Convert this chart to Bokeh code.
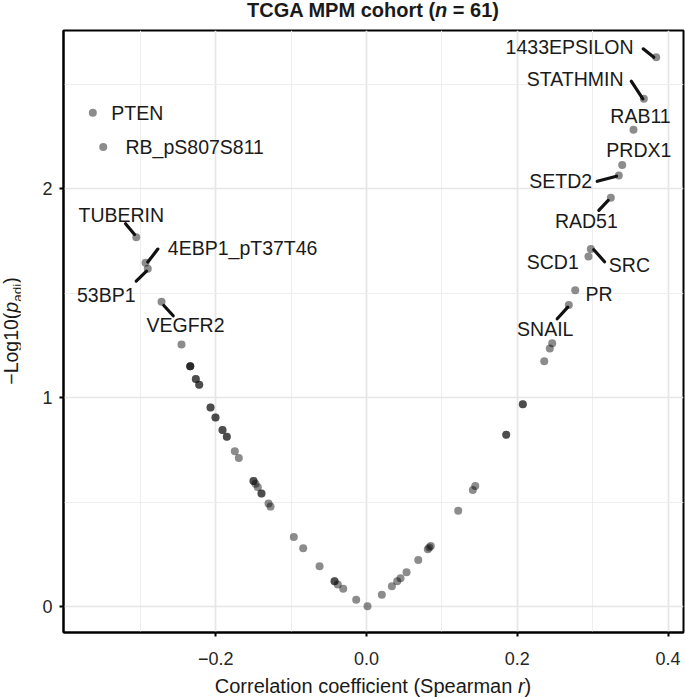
from bokeh.plotting import figure
from bokeh.models import ColumnDataSource, FixedTicker, Div
from bokeh.layouts import column, row
from bokeh.core.properties import value
from bokeh.embed import file_html
from bokeh.resources import INLINE

# ---------------- data ----------------
# unlabeled proteins (duplicates = overlapping proteins)
other_r = [-0.2454, -0.2338, -0.2338, -0.2338, -0.2264, -0.2264, -0.2219, -0.2219,
           -0.2069, -0.2069, -0.2003, -0.2003, -0.1910, -0.1910, -0.1853, -0.1853,
           -0.1747, -0.1694, -0.1499, -0.1499, -0.1472, -0.1442, -0.1393, -0.1393,
           -0.1300, -0.1273, -0.0964, -0.0840, -0.0623, -0.0424, -0.0424, -0.0381,
           -0.0309, -0.0137, 0.0013,
           0.0203, 0.0336, 0.0407, 0.0451, 0.0531, 0.0686, 0.0813, 0.0832, 0.0853,
           0.1216, 0.1410, 0.1442, 0.1853, 0.1853, 0.2073, 0.2073, 0.2357, 0.2431, 0.2463]
other_y = [1.254, 1.150, 1.150, 1.150, 1.089, 1.089, 1.061, 1.061,
           0.952, 0.952, 0.904, 0.904, 0.844, 0.844, 0.812, 0.812,
           0.743, 0.711, 0.600, 0.600, 0.587, 0.571, 0.541, 0.541,
           0.493, 0.478, 0.332, 0.279, 0.193, 0.121, 0.121, 0.105,
           0.085, 0.032, 0.001,
           0.056, 0.097, 0.121, 0.135, 0.164, 0.223, 0.274, 0.282, 0.290,
           0.458, 0.558, 0.576, 0.822, 0.822, 0.968, 0.968, 1.174, 1.234, 1.260]

lab_names = ["1433EPSILON", "STATHMIN", "RAB11", "PRDX1", "SETD2", "RAD51", "SRC", "SCD1",
             "PR", "SNAIL", "PTEN", "RB_pS807S811", "TUBERIN", "4EBP1_pT37T46", "53BP1", "VEGFR2"]
lab_r = [0.3842, 0.3678, 0.3541, 0.3391, 0.3346, 0.3240, 0.2975, 0.2944,
         0.2768, 0.2683, -0.3630, -0.3492, -0.3054, -0.2931, -0.2901, -0.2719]
lab_y = [2.628, 2.429, 2.281, 2.113, 2.062, 1.956, 1.710, 1.675,
         1.513, 1.442, 2.362, 2.198, 1.767, 1.645, 1.616, 1.458]

x_ticks = [-0.2, 0.0, 0.2, 0.4]
x_tick_labels = ["\u22120.2", "0.0", "0.2", "0.4"]
x_minor = [-0.3, -0.1, 0.1, 0.3]
y_ticks = [0, 1, 2]
y_tick_labels = ["0", "1", "2"]
y_minor = [0.5, 1.5, 2.5]

title_html = "TCGA MPM cohort (<i>n</i> = 61)"
xlabel_html = "Correlation coefficient (Spearman <i>r</i>)"
ylabel_html = ("\u2212Log10(<i>p</i><sub style=\"font-size:13.5px;vertical-align:-4px;"
               "line-height:1\">adj</sub>)")

# ---------------- layout (label placement, px offsets from point) ----------------
# name: (dx, dy_center, align, segment offsets or None)
label_layout = {
    "1433EPSILON": (-22.7, -9.7, "right", (-13.0, -8.4, -2.4, 0.0)),
    "STATHMIN": (-20.3, -19.3, "right", (-12.6, -17.6, -1.0, 0.0)),
    "RAB11": (7.0, -13.0, "center", None),
    "PRDX1": (16.6, -14.3, "center", None),
    "SETD2": (-26.6, 6.0, "right", (-21.6, 5.7, -2.3, 0.7)),
    "RAD51": (-24.5, 23.7, "center", (-12.0, 12.7, -2.6, 2.7)),
    "SRC": (18.0, 16.3, "left", (3.0, 0.6, 13.7, 12.6)),
    "SCD1": (-9.7, 6.0, "right", None),
    "PR": (10.3, 4.0, "left", None),
    "SNAIL": (-23.6, 24.3, "center", (-11.6, 13.6, -1.0, 2.0)),
    "PTEN": (18.4, 1.0, "left", None),
    "RB_pS807S811": (22.3, 0.6, "left", None),
    "TUBERIN": (-15.0, -22.0, "center", (-10.7, -13.4, -1.7, -2.7)),
    "4EBP1_pT37T46": (22.3, -14.0, "left", (12.3, -13.6, 2.3, -0.6)),
    "53BP1": (-12.3, 26.7, "right", (-11.6, 12.4, -1.3, 2.4)),
    "VEGFR2": (24.0, 23.7, "center", (2.3, 3.7, 11.7, 14.0)),
}

FW, FH = 620, 602
X0, X1 = -0.4019, 0.4204
Y0, Y1 = -0.1244, 2.756
SX = FW / (X1 - X0)
SY = FH / (Y1 - Y0)
FONT = "Liberation Sans"
LAB_SIZE = 19.5
TEXT_SHIFT = 0.358 * LAB_SIZE - 7.5   # centre-of-caps -> baseline correction

BL, BR, BT, BB = 43, 2, 2, 44      # figure borders
YLAB_W = 20
TITLE_H = 28
TOTAL_W = YLAB_W + BL + FW + BR    # 685
FIG_H = BT + FH + BB
XLAB_H = 698 - TITLE_H - FIG_H

p = figure(frame_width=FW, frame_height=FH, x_range=(X0, X1), y_range=(Y0, Y1),
           output_backend="svg", toolbar_location=None,
           min_border_left=BL, min_border_right=BR, min_border_top=BT, min_border_bottom=BB)
p.background_fill_color = "white"
p.border_fill_color = "white"
p.outline_line_color = "black"
p.outline_line_width = 2

for ax, ticks, minor, labels, standoff in ((p.xaxis, x_ticks, x_minor, x_tick_labels, 15),
                                           (p.yaxis, y_ticks, y_minor, y_tick_labels, 7)):
    ax.ticker = FixedTicker(ticks=ticks, minor_ticks=minor)
    ax.major_label_overrides = dict(zip(ticks, labels))
    ax.axis_line_color = "black"
    ax.axis_line_width = 2
    ax.major_tick_line_color = "black"
    ax.major_tick_line_width = 2
    ax.major_tick_out = 4
    ax.major_tick_in = 0
    ax.minor_tick_out = 0
    ax.minor_tick_in = 0
    ax.major_label_text_font = FONT
    ax.major_label_text_font_size = "18px"
    ax.major_label_text_color = "#262626"
    ax.major_label_standoff = standoff

for g in (p.xgrid, p.ygrid):
    g.grid_line_color = "#e6e6e6"
    g.grid_line_width = 1.7
    g.minor_grid_line_color = "#eeeeee"
    g.minor_grid_line_width = 1.0

# points
p.scatter(other_r, other_y, size=8, fill_color="black", fill_alpha=0.45, line_color=None)
p.scatter(lab_r, lab_y, size=8, fill_color="black", fill_alpha=0.45, line_color=None)

# segments
sx0, sy0, sx1, sy1 = [], [], [], []
for name, r, yv in zip(lab_names, lab_r, lab_y):
    seg = label_layout[name][3]
    if seg is None:
        continue
    a, b, c, d = seg
    sx0.append(r + a / SX); sy0.append(yv - b / SY)
    sx1.append(r + c / SX); sy1.append(yv - d / SY)
p.segment(sx0, sy0, sx1, sy1, line_color="#111111", line_width=3.2, line_cap="round")

# labels
for align in ("left", "right", "center"):
    d = dict(x=[], y=[], t=[], dx=[], dy=[])
    for name, r, yv in zip(lab_names, lab_r, lab_y):
        dx, dy, al, _ = label_layout[name]
        if al != align:
            continue
        d["x"].append(r); d["y"].append(yv); d["t"].append(name)
        d["dx"].append(dx); d["dy"].append(dy + TEXT_SHIFT)
    p.text(x="x", y="y", text="t", x_offset="dx", y_offset="dy", source=ColumnDataSource(d),
           text_align=align, text_baseline="alphabetic", text_font=value(FONT),
           text_font_size=f"{LAB_SIZE}px", text_color="#1a1a1a")

# ---------------- titles as real text in Divs ----------------
font_css = f"font-family:'{FONT}',Arial,sans-serif;color:#1a1a1a;white-space:nowrap;"
title_div = Div(width=TOTAL_W, height=TITLE_H, margin=0, styles={"overflow": "visible"},
                text=(f"<div style=\"{font_css}font-size:20px;font-weight:bold;line-height:20px;"
                      f"margin-left:{YLAB_W + BL}px;width:{FW}px;text-align:center;"
                      f"position:relative;top:0px\">{title_html}</div>"))
xlab_div = Div(width=TOTAL_W, height=XLAB_H, margin=0, styles={"overflow": "visible"},
               text=(f"<div style=\"{font_css}font-size:20px;line-height:20px;"
                     f"margin-left:{YLAB_W + BL}px;width:{FW}px;text-align:center;"
                     f"position:relative;top:0px\">{xlabel_html}</div>"))
ylab_div = Div(width=YLAB_W, height=FIG_H, margin=0, styles={"overflow": "visible"},
               text=(f"<div style=\"position:relative;width:{YLAB_W}px;height:{FIG_H}px\">"
                     f"<div style=\"{font_css}font-size:19.5px;line-height:1;position:absolute;"
                     f"left:13px;top:{BT + FH / 2}px;"
                     f"transform:translate(-50%,-50%) rotate(-90deg)\">{ylabel_html}</div></div>"))

layout = column(title_div, row(ylab_div, p, spacing=0), xlab_div, spacing=0)

open("out.html", "w").write(file_html(layout, INLINE))
